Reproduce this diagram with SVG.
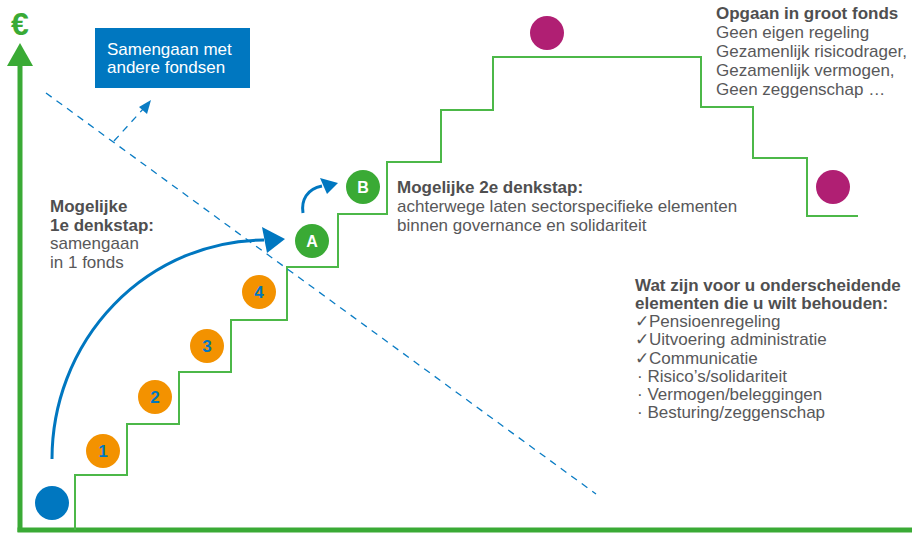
<svg xmlns="http://www.w3.org/2000/svg" width="912" height="539" viewBox="0 0 912 539">
  <style>
    .txt { font-family: "Liberation Sans", Arial, sans-serif; font-size: 17px; fill: #58585a; }
    .bold { font-weight: bold; fill: #4f4f50; }
    .axis { stroke: #3aaa35; stroke-width: 5; fill: none; }
    .stairs { stroke: #4cb848; stroke-width: 2; fill: none; }
    .dash { stroke: #0a7cc4; stroke-width: 1.3; stroke-dasharray: 7 6; fill: none; }
    .arc { stroke: #0077c0; stroke-width: 3; fill: none; }
    .num { font-family: "Liberation Sans", Arial, sans-serif; font-size: 17px; font-weight: bold; fill: #0077c0; text-anchor: middle; }
    .let { font-family: "Liberation Sans", Arial, sans-serif; font-size: 16px; font-weight: bold; fill: #ffffff; text-anchor: middle; }
    .orange { fill: #f39200; }
    .green { fill: #3aaa35; }
    .magenta { fill: #b01f73; }
  </style>

  <rect width="912" height="539" fill="#ffffff"/>

  <!-- axes -->
  <g id="axes">
    <line class="axis" x1="20" y1="64" x2="20" y2="532"/>
    <line class="axis" x1="17.5" y1="530" x2="912" y2="530"/>
    <polygon points="20,43 7,66 33,66" fill="#3aaa35"/>
    <text x="20" y="35" text-anchor="middle" style="font-family: 'Liberation Sans', Arial, sans-serif; font-size: 32px; font-weight: bold; fill: #3aaa35;">€</text>
  </g>

  <!-- staircase -->
  <g id="staircase">
    <polyline class="stairs" points="75,530 75,475 127,475 127,424 179,424 179,372 231,372 231,320 287,320 287,267 338,267 338,214 387,214 387,162 441,162 441,110 493,110 493,57 701,57 701,107 753,107 753,158 807,158 807,216 858,216"/>
  </g>

  <!-- connectors -->
  <g id="connectors">
    <line class="dash" x1="46" y1="93" x2="596" y2="494"/>
    <line class="dash" x1="114" y1="141" x2="144" y2="108"/>
    <polygon points="151,100 139,107 147,114" fill="#0a7cc4"/>
    <path class="arc" d="M52,459 A213,219 0 0 1 264,240"/>
    <polygon points="285,239 262,227 267,253" fill="#0077c0"/>
    <path class="arc" d="M303,213 C301,200 307,189 322,186"/>
    <polygon points="338,183 320,178 327,194" fill="#0077c0"/>
  </g>

  <!-- merger box -->
  <g id="box-samengaan">
    <rect x="95" y="28" width="155" height="60" fill="#0077c0"/>
    <text class="txt" x="107" y="55" style="fill:#ffffff">Samengaan met</text>
    <text class="txt" x="107" y="73" style="fill:#ffffff">andere fondsen</text>
  </g>

  <!-- start point -->
  <g id="start">
    <circle cx="52" cy="503" r="17" fill="#0077c0"/>
  </g>

  <!-- numbered steps -->
  <g id="step-1">
    <circle class="orange" cx="103" cy="451" r="17"/>
    <text class="num" x="103" y="457">1</text>
  </g>
  <g id="step-2">
    <circle class="orange" cx="155" cy="397" r="17"/>
    <text class="num" x="155" y="403">2</text>
  </g>
  <g id="step-3">
    <circle class="orange" cx="207" cy="346" r="17"/>
    <text class="num" x="207" y="352">3</text>
  </g>
  <g id="step-4">
    <circle class="orange" cx="259" cy="292" r="17"/>
    <text class="num" x="259" y="298">4</text>
  </g>
  <g id="step-a">
    <circle class="green" cx="312" cy="241" r="17"/>
    <text class="let" x="312" y="247">A</text>
  </g>
  <g id="step-b">
    <circle class="green" cx="363" cy="187" r="17"/>
    <text class="let" x="363" y="193">B</text>
  </g>
  <g id="top">
    <circle class="magenta" cx="547" cy="33" r="17"/>
  </g>
  <g id="end">
    <circle class="magenta" cx="833" cy="187" r="17"/>
  </g>

  <!-- labels -->
  <g id="label-stap1">
    <text class="txt bold" x="50" y="212">Mogelijke</text>
    <text class="txt bold" x="50" y="231">1e denkstap:</text>
    <text class="txt" x="50" y="249">samengaan</text>
    <text class="txt" x="50" y="268">in 1 fonds</text>
  </g>
  <g id="label-stap2">
    <text class="txt bold" x="397" y="193">Mogelijke 2e denkstap:</text>
    <text class="txt" x="397" y="212">achterwege laten sectorspecifieke elementen</text>
    <text class="txt" x="397" y="231">binnen governance en solidariteit</text>
  </g>
  <g id="label-groot-fonds">
    <text class="txt bold" x="716" y="19">Opgaan in groot fonds</text>
    <text class="txt" x="716" y="38">Geen eigen regeling</text>
    <text class="txt" x="716" y="57">Gezamenlijk risicodrager,</text>
    <text class="txt" x="716" y="76">Gezamenlijk vermogen,</text>
    <text class="txt" x="716" y="95">Geen zeggenschap …</text>
  </g>
  <g id="label-elementen">
    <text class="txt bold" x="635" y="291">Wat zijn voor u onderscheidende</text>
    <text class="txt bold" x="635" y="309">elementen die u wilt behouden:</text>
    <text class="txt" x="635" y="327">✓Pensioenregeling</text>
    <text class="txt" x="635" y="345">✓Uitvoering administratie</text>
    <text class="txt" x="635" y="364">✓Communicatie</text>
    <text class="txt" x="637" y="382">· Risico’s/solidariteit</text>
    <text class="txt" x="637" y="400">· Vermogen/beleggingen</text>
    <text class="txt" x="637" y="418">· Besturing/zeggenschap</text>
  </g>
</svg>
